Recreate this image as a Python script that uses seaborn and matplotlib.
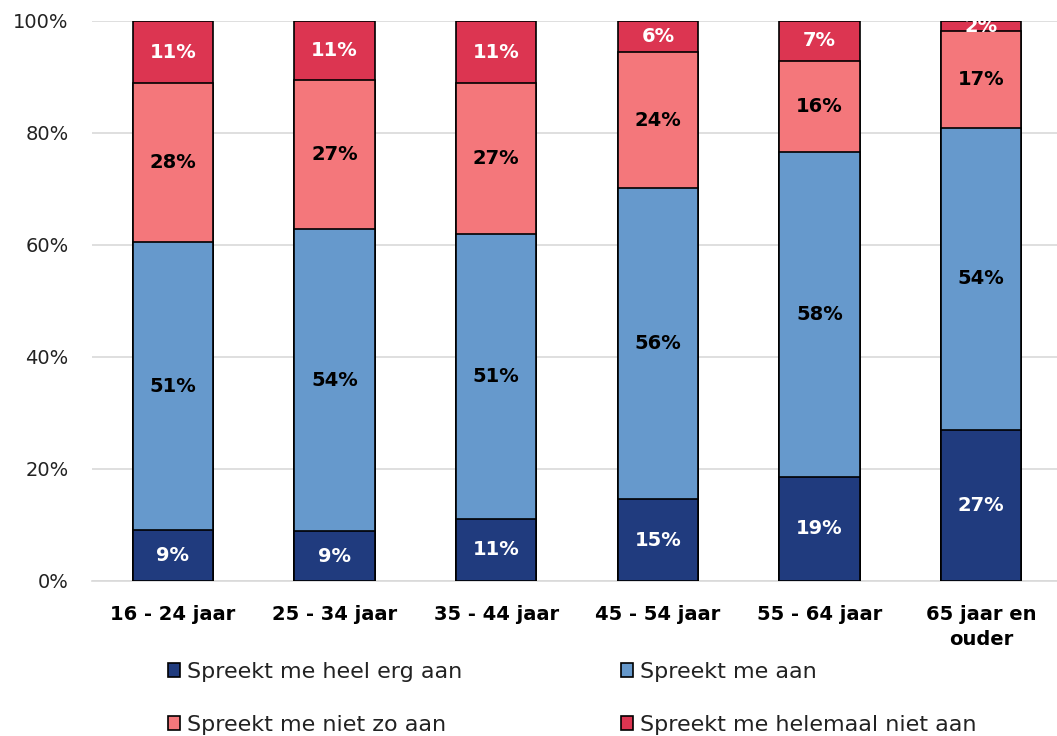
import matplotlib
matplotlib.use('Agg')
import numpy as np
import pandas as pd
import matplotlib.pyplot as plt
import seaborn as sns
from matplotlib.patches import Patch


# Leeftijdsgroepen en aandelen (in %), van onder naar boven gestapeld
categories = ['16 - 24 jaar', '25 - 34 jaar', '35 - 44 jaar', '45 - 54 jaar', '55 - 64 jaar', '65 jaar en\nouder']
heel_erg = [9.1, 8.9, 11.1, 14.6, 18.6, 27.0]
spreekt_aan = [51.4, 53.9, 50.9, 55.6, 58.0, 53.9]
niet_zo = [28.4, 26.6, 26.9, 24.2, 16.3, 17.3]
helemaal_niet = [11.1, 10.6, 11.1, 5.6, 7.1, 1.8]

series_names = ['Spreekt me heel erg aan', 'Spreekt me aan',
                'Spreekt me niet zo aan', 'Spreekt me helemaal niet aan']
colors = ['#203B7E', '#6699CC', '#F4777B', '#DC3551']
label_colors = ['white', 'black', 'black', 'white']
y_ticks = [0, 20, 40, 60, 80, 100]

df = pd.DataFrame({
    'categorie': categories,
    series_names[0]: heel_erg,
    series_names[1]: spreekt_aan,
    series_names[2]: niet_zo,
    series_names[3]: helemaal_niet,
})
cum = df[series_names].cumsum(axis=1)

sns.set_style('white')
plt.rcParams['font.family'] = ['DejaVu Sans']

fig = plt.figure(figsize=(10.57, 7.36), dpi=100)
ax = fig.add_axes([92 / 1057, (736 - 581) / 736, 970 / 1057, 560 / 736])

# Stacked bars: draw cumulative totals from the top down
for i in range(3, -1, -1):
    plot_df = pd.DataFrame({'categorie': categories, 'waarde': cum[series_names[i]]})
    sns.barplot(data=plot_df, x='categorie', y='waarde', order=categories,
                color=colors[i], saturation=1, edgecolor='black', linewidth=1.2,
                width=0.495, errorbar=None, ax=ax, zorder=3)

# Data labels in the middle of each segment
for i, name in enumerate(series_names):
    for j in range(len(categories)):
        val = df[name][j]
        center = cum[name][j] - val / 2
        ax.text(j, center, f"{val:.0f}%", ha='center', va='center',
                fontsize=14, fontweight='bold', color=label_colors[i], zorder=5)

ax.set_xlim(-0.5, 5.5)
ax.set_ylim(0, 100)
ax.set_yticks(y_ticks)
ax.set_yticklabels([f'{t}%' for t in y_ticks])
ax.set_xlabel('')
ax.set_ylabel('')
ax.yaxis.grid(True, color='#d9d9d9', linewidth=1.2)
ax.set_axisbelow(True)
for s in ['left', 'top', 'right']:
    ax.spines[s].set_visible(False)
ax.spines['bottom'].set_color('#d9d9d9')
ax.spines['bottom'].set_linewidth(1.2)
ax.tick_params(axis='y', length=0, pad=17, labelsize=14, labelcolor='#222222')
ax.tick_params(axis='x', length=0, pad=17, labelsize=14, labelcolor='black')
for lbl in ax.get_xticklabels():
    lbl.set_fontweight('bold')
    lbl.set_linespacing(1.45)

# Legend in two columns below the chart
handles = [Patch(facecolor=c, edgecolor='black', linewidth=1.2) for c in colors]
leg_kw = dict(frameon=False, loc='upper left', handlelength=0.55, handleheight=0.55,
              handletextpad=0.3, labelspacing=1.48, borderpad=0, borderaxespad=0,
              fontsize=16, labelcolor='#222222')
fig.legend([handles[0], handles[2]], [series_names[0], series_names[2]],
           bbox_to_anchor=(168 / 1057, (736 - 662) / 736), **leg_kw)
fig.legend([handles[1], handles[3]], [series_names[1], series_names[3]],
           bbox_to_anchor=(621 / 1057, (736 - 662) / 736), **leg_kw)

fig.savefig('out.png', dpi=100)
